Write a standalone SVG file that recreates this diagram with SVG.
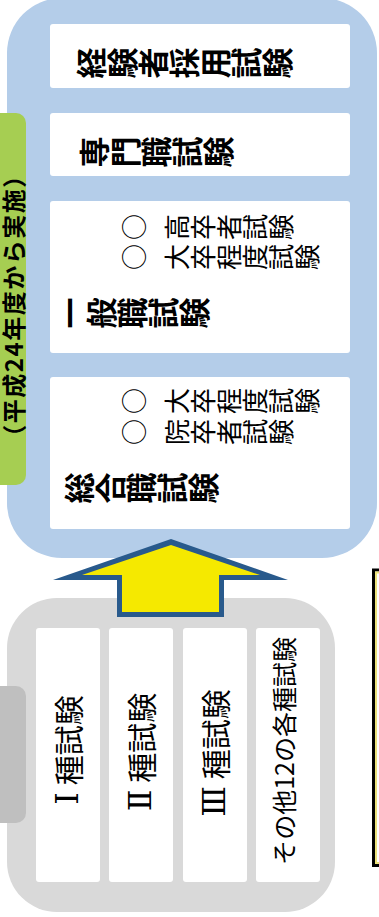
<svg xmlns="http://www.w3.org/2000/svg" width="379" height="917" viewBox="0 0 379 917">
<style>
.jp{font-family:"Noto Sans CJK JP","Noto Sans CJK SC",sans-serif;fill:#000}
.v{writing-mode:vertical-rl}
.t{font-size:31px;font-weight:bold}
.s{font-size:26px}
.h{dominant-baseline:central;text-anchor:middle}
.rn{font-family:"DejaVu Serif","Noto Sans CJK JP",serif;font-size:32px}
.card{fill:#fff}
</style>
<g id="new-system">
<rect x="7" y="-2" width="370" height="560" rx="55" fill="#b4cde9"/>
</g>
<g id="tab-new">
<rect x="-10" y="113" width="36" height="372" rx="10" fill="#a6ce52"/>
<text class="jp h" font-size="24" font-weight="bold" letter-spacing="1.5" transform="translate(12.5,305.5) rotate(-90)">（平成24年度から実施）</text>
</g>
<g id="node-keikensha">
<rect class="card" x="50" y="24" width="300" height="64" rx="3"/>
<text class="jp v t" transform="translate(75.5,63) rotate(-90)">経験者採用試験</text>
</g>
<g id="node-senmonshoku">
<rect class="card" x="50" y="113" width="300" height="63" rx="3"/>
<text class="jp v t" transform="translate(78.5,152) rotate(-90)">専門職試験</text>
</g>
<g id="node-ippanshoku">
<rect class="card" x="50" y="201" width="300" height="152" rx="3"/>
<text class="jp v s" transform="translate(121.5,227) rotate(-90)">○</text>
<text class="jp v s" transform="translate(164,227) rotate(-90)">高卒者試験</text>
<text class="jp v s" transform="translate(121.5,257) rotate(-90)">○</text>
<text class="jp v s" transform="translate(164,257) rotate(-90)">大卒程度試験</text>
<text class="jp v t" transform="translate(55,313) rotate(-90)">一般職試験</text>
</g>
<g id="node-sogoshoku">
<rect class="card" x="50" y="377" width="300" height="152" rx="3"/>
<text class="jp v s" transform="translate(121.5,401) rotate(-90)">○</text>
<text class="jp v s" transform="translate(164,401) rotate(-90)">大卒程度試験</text>
<text class="jp v s" transform="translate(121.5,432) rotate(-90)">○</text>
<text class="jp v s" transform="translate(164,432) rotate(-90)">院卒者試験</text>
<text class="jp v t" transform="translate(63.5,488) rotate(-90)">総合職試験</text>
</g>
<g id="old-system">
<rect x="7" y="598" width="328" height="314" rx="50" fill="#d9d9d9"/>
</g>
<g id="tab-old">
<rect x="-10" y="686" width="36" height="137" rx="10" fill="#bfbfbf"/>
</g>
<g id="node-type1">
<rect class="card" x="36" y="628" width="64" height="254" rx="3"/>
<text class="jp h" font-size="30" transform="translate(66.5,750) rotate(-90)"><tspan class="rn">Ⅰ</tspan> 種試験</text>
</g>
<g id="node-type2">
<rect class="card" x="109" y="628" width="64" height="254" rx="3"/>
<text class="jp h" font-size="30" transform="translate(140,752) rotate(-90)"><tspan class="rn">Ⅱ</tspan> 種試験</text>
</g>
<g id="node-type3">
<rect class="card" x="183" y="628" width="64" height="254" rx="3"/>
<text class="jp h" font-size="30" transform="translate(213.5,753) rotate(-90)"><tspan class="rn">Ⅲ</tspan> 種試験</text>
</g>
<g id="node-other">
<rect class="card" x="256" y="628" width="64" height="254" rx="3"/>
<text class="jp h" font-size="25" transform="translate(283,751) rotate(-90)">その他12の各種試験</text>
</g>
<g id="note-box">
<rect x="373.5" y="570" width="20" height="295.5" fill="#fff" stroke="#000" stroke-width="3"/>
<rect x="376" y="572.5" width="20" height="290.5" fill="#fff" stroke="#ece27a" stroke-width="2"/>
</g>
<g id="connectors">
<polygon points="171,539 288,580 224,580 224,617 117,617 117,580 53,580" fill="#295a8c"/>
<polygon points="171,545 260,575 219,575 219,612 122,612 122,575 82,575" fill="#f5e900"/>
</g>
</svg>
